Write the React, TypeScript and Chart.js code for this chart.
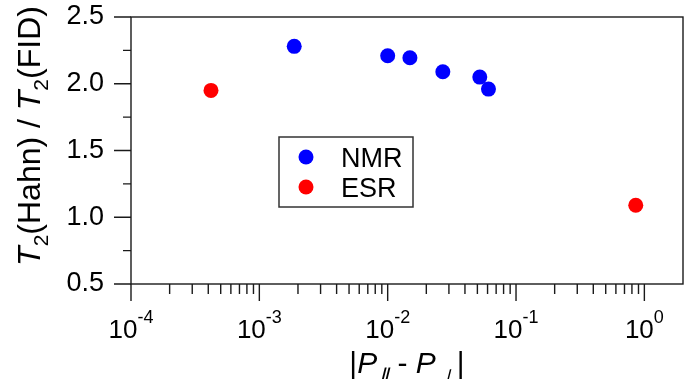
import React, { useEffect, useRef } from 'react';
import { Chart, registerables } from 'chart.js';

Chart.register(...registerables);

// ---- data ----
const nmrX = [0.00187, 0.01, 0.0149, 0.0269, 0.0522, 0.061];
const nmrY = [2.28, 2.21, 2.195, 2.09, 2.05, 1.96];
const esrX = [0.00042, 0.857];
const esrY = [1.95, 1.09];
const seriesLabels = ['NMR', 'ESR'];
const seriesColors = ['#0000FF', '#FF0000'];

const xMin = 1e-4;
const xMax = 2;
const yMin = 0.5;
const yMax = 2.5;
const xMajorTicks = [1e-4, 1e-3, 1e-2, 1e-1, 1];
const xTickBases = ['10', '10', '10', '10', '10'];
const xTickExponents = ['-4', '-3', '-2', '-1', '0'];
const xMinorMultipliers = [2, 3, 4, 5, 6, 7, 8, 9];
const yMajorTicks = [0.5, 1.0, 1.5, 2.0, 2.5];
const yMinorTicks = [0.75, 1.25, 1.75, 2.25];

const FONT = '"Liberation Sans", Arial, Helvetica, sans-serif';

type Seg = { t: string; size: number; italic?: boolean; dy?: number };

function fontOf(s: Seg) {
  return `${s.italic ? 'italic ' : ''}${s.size}px ${FONT}`;
}

function drawRich(ctx: CanvasRenderingContext2D, segs: Seg[], x: number, y: number, align: 'center' | 'left') {
  let total = 0;
  const widths = segs.map((s) => {
    ctx.font = fontOf(s);
    const w = ctx.measureText(s.t).width;
    total += w;
    return w;
  });
  let cx = align === 'center' ? x - total / 2 : x;
  ctx.textAlign = 'left';
  ctx.textBaseline = 'alphabetic';
  segs.forEach((s, i) => {
    ctx.font = fontOf(s);
    ctx.fillText(s.t, cx, y + (s.dy || 0));
    cx += widths[i];
  });
}

const framePlugin = {
  id: 'framePlugin',
  afterDraw(chart: any) {
    const ctx: CanvasRenderingContext2D = chart.ctx;
    const { left, right, top, bottom } = chart.chartArea;
    const xs = chart.scales.x;
    const ys = chart.scales.y;
    ctx.save();
    ctx.strokeStyle = '#1a1a1a';
    ctx.fillStyle = '#000';
    ctx.lineWidth = 1.4;
    // frame
    ctx.strokeRect(left, top, right - left, bottom - top);

    // y ticks
    ctx.beginPath();
    yMajorTicks.forEach((v) => {
      const py = ys.getPixelForValue(v);
      ctx.moveTo(left - 17, py);
      ctx.lineTo(left, py);
    });
    yMinorTicks.forEach((v) => {
      const py = ys.getPixelForValue(v);
      ctx.moveTo(left - 8, py);
      ctx.lineTo(left, py);
    });
    // x ticks
    xMajorTicks.forEach((v) => {
      const px = xs.getPixelForValue(v);
      ctx.moveTo(px, bottom);
      ctx.lineTo(px, bottom + 17);
    });
    xMajorTicks.slice(0, -1).forEach((d) => {
      xMinorMultipliers.forEach((m) => {
        const px = xs.getPixelForValue(d * m);
        ctx.moveTo(px, bottom);
        ctx.lineTo(px, bottom + 10);
      });
    });
    ctx.stroke();

    // x tick labels
    xMajorTicks.forEach((v, i) => {
      const px = xs.getPixelForValue(v);
      drawRich(
        ctx,
        [
          { t: xTickBases[i], size: 26 },
          { t: xTickExponents[i], size: 18, dy: -15 },
        ],
        px,
        338,
        'center'
      );
    });

    // x title
    drawRich(
      ctx,
      [
        { t: '|', size: 30 },
        { t: 'P', size: 30, italic: true },
        { t: '\u2225', size: 24, italic: true, dy: 13 },
        { t: ' - ', size: 30 },
        { t: 'P', size: 30, italic: true },
        { t: '\u22A5', size: 24, italic: true, dy: 13 },
        { t: '|', size: 30 },
      ],
      (left + right) / 2,
      373,
      'center'
    );

    // y title
    ctx.save();
    ctx.translate(40, 136);
    ctx.rotate(-Math.PI / 2);
    drawRich(
      ctx,
      [
        { t: 'T', size: 32, italic: true },
        { t: '2', size: 21, dy: 8 },
        { t: '(Hahn) / ', size: 32 },
        { t: 'T', size: 32, italic: true },
        { t: '2', size: 21, dy: 8 },
        { t: '(FID)', size: 32 },
      ],
      0,
      0,
      'center'
    );
    ctx.restore();

    // legend
    const lx = 279, ly = 137, lw = 134, lh = 70;
    ctx.fillStyle = '#fff';
    ctx.fillRect(lx, ly, lw, lh);
    ctx.lineWidth = 1.5;
    ctx.strokeStyle = '#333';
    ctx.strokeRect(lx, ly, lw, lh);
    chart.data.datasets.forEach((ds: any, i: number) => {
      const cy = 157 + i * 30;
      ctx.beginPath();
      ctx.fillStyle = ds.backgroundColor;
      ctx.arc(306, cy, 7.5, 0, Math.PI * 2);
      ctx.fill();
      ctx.fillStyle = '#000';
      ctx.font = `27px ${FONT}`;
      ctx.textAlign = 'left';
      ctx.textBaseline = 'alphabetic';
      ctx.fillText(ds.label, 341, cy + 9.7);
    });
    ctx.restore();
  },
};

export default function App() {
  const ref = useRef<HTMLCanvasElement | null>(null);
  useEffect(() => {
    if (!ref.current) return;
    const chart = new Chart(ref.current, {
      type: 'scatter',
      data: {
        datasets: [
          {
            label: seriesLabels[0],
            data: nmrX.map((x, i) => ({ x, y: nmrY[i] })),
            backgroundColor: seriesColors[0],
            borderColor: seriesColors[0],
            pointRadius: 7.5,
            pointBorderWidth: 0,
          },
          {
            label: seriesLabels[1],
            data: esrX.map((x, i) => ({ x, y: esrY[i] })),
            backgroundColor: seriesColors[1],
            borderColor: seriesColors[1],
            pointRadius: 7.5,
            pointBorderWidth: 0,
          },
        ],
      },
      options: {
        animation: false,
        responsive: false,
        layout: { padding: { left: 0, right: 11, top: 17, bottom: 95 } },
        plugins: { legend: { display: false }, tooltip: { enabled: false } },
        events: [],
        scales: {
          x: {
            type: 'logarithmic',
            min: xMin,
            max: xMax,
            display: false,
          },
          y: {
            type: 'linear',
            min: yMin,
            max: yMax,
            grid: { display: false, drawTicks: true, tickLength: 26 },
            border: { display: false },
            afterBuildTicks: (scale: any) => {
              scale.ticks = yMajorTicks.map((v) => ({ value: v }));
            },
            afterFit: (scale: any) => {
              scale.width = 131;
            },
            ticks: {
              padding: 1,
              color: '#000',
              font: { family: FONT, size: 27, lineHeight: 1 },
              callback: (v: any) => Number(v).toFixed(1),
            },
          },
        },
      },
      plugins: [framePlugin],
    });
    return () => chart.destroy();
  }, []);
  return (
    <div style={{ position: 'fixed', left: 0, top: 0, width: 694, height: 379, background: '#fff' }}>
      <canvas ref={ref} width={694} height={379} style={{ display: 'block' }} />
    </div>
  );
}
